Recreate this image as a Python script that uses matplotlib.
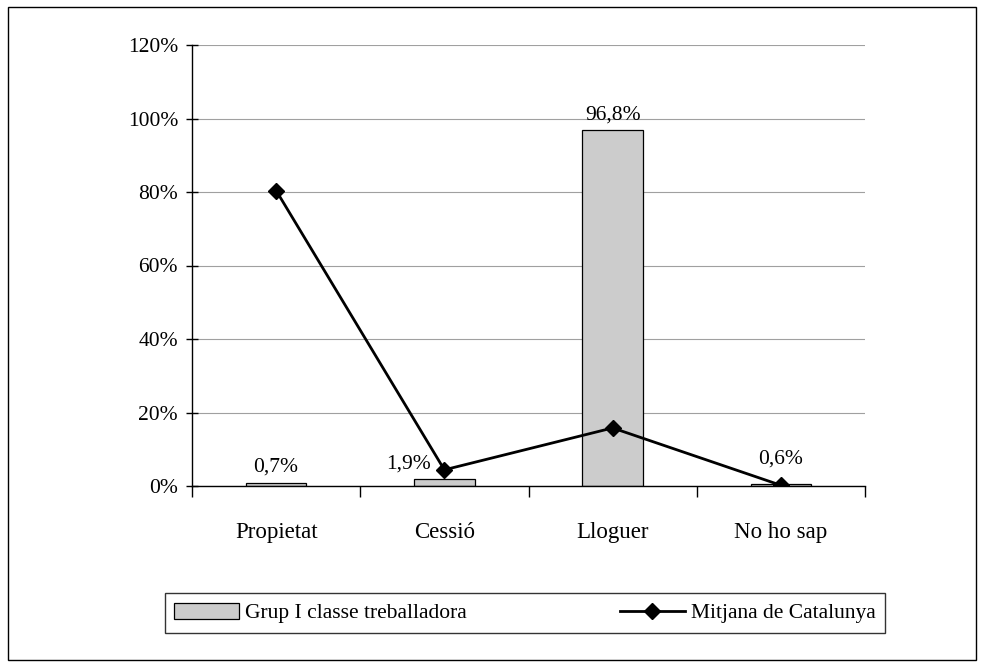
import numpy as np
import matplotlib.pyplot as plt
from matplotlib.patches import Rectangle
from matplotlib.ticker import FuncFormatter

plt.rcParams['font.family'] = ['Liberation Serif', 'DejaVu Serif']

# data
categories = ['Propietat', 'Cessió', 'Lloguer', 'No ho sap']
grup_i = [0.7, 1.9, 96.8, 0.6]
mitjana = [80.4, 4.4, 15.8, 0.2]
bar_labels = ['0,7%', '1,9%', '96,8%', '0,6%']

fs = 15.5

fig = plt.figure(figsize=(9.84, 6.67), dpi=100)
# outer frame
fig.patches.append(Rectangle((0.008, 0.01), 0.984, 0.98, transform=fig.transFigure,
                             fill=False, edgecolor='black', linewidth=1))

ax = fig.add_axes([192/984, 1-486/667, 673/984, 441/667])
x = np.arange(len(categories))
bars = ax.bar(x, grup_i, width=0.36, color='#cccccc', edgecolor='black', linewidth=0.9,
              label='Grup I classe treballadora', zorder=2)
line, = ax.plot(x, mitjana, color='black', linewidth=2, marker='D', markersize=8,
                label='Mitjana de Catalunya', zorder=3)

# data labels on the bars
offsets = [(0, 5), (-26, 4), (0, 4), (0, 11)]
for i, lab in enumerate(bar_labels):
    ax.annotate(lab, (x[i], grup_i[i]), xytext=offsets[i], textcoords='offset points',
                ha='center', va='bottom', fontsize=fs)

ax.set_xlim(-0.5, 3.5)
ax.set_ylim(0, 120)
ax.set_yticks(np.arange(0, 121, 20))
ax.yaxis.set_major_formatter(FuncFormatter(lambda v, p: '%d%%' % v))
ax.yaxis.grid(True, color='#a0a0a0', linewidth=0.8, zorder=0)
ax.set_axisbelow(True)

ax.set_xticks(x)
ax.set_xticklabels(categories)
ax.set_xticks(np.arange(-0.5, 4.0, 1.0), minor=True)
ax.tick_params(axis='x', which='major', length=0, pad=26, labelsize=16.5)
ax.tick_params(axis='x', which='minor', length=8, direction='out', width=1)
ax.tick_params(axis='y', length=8, direction='inout', width=1, labelsize=fs, pad=6)

for s in ['top', 'right']:
    ax.spines[s].set_visible(False)
ax.spines['left'].set_linewidth(1)
ax.spines['bottom'].set_linewidth(1)

leg = fig.legend([bars, line], ['Grup I classe treballadora', 'Mitjana de Catalunya'],
                 loc='center', bbox_to_anchor=(525/984, 1-613/667), ncol=2,
                 frameon=True, fancybox=False, edgecolor='black', fontsize=fs,
                 columnspacing=7.1, handlelength=3.0, handleheight=0.8,
                 handletextpad=0.3, borderpad=0.45, borderaxespad=0)
leg.get_frame().set_linewidth(1)

fig.savefig('out.png', dpi=100)
